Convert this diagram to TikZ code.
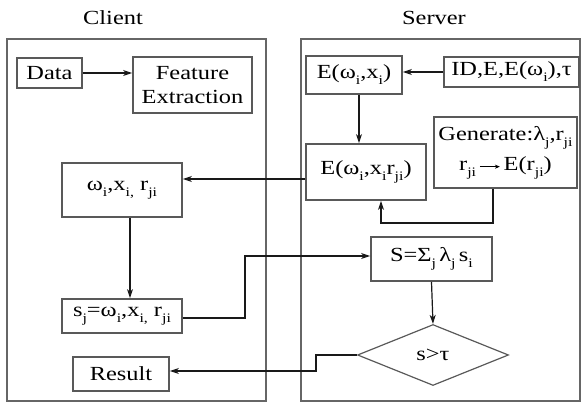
\documentclass[tikz,border=0pt]{standalone}
\usepackage{fontspec}
\setmainfont{Liberation Serif}[FakeStretch=1.22]
\usetikzlibrary{arrows.meta,shapes.geometric,calc}
\newcommand\sbb[1]{\raisebox{-0.65ex}{\fontsize{13}{13}\selectfont #1}}
\tikzset{
  bx/.style={draw=black!65, line width=1.7pt, inner sep=0pt, align=center, fill=white},
  panel/.style={draw=black!60, line width=1.1pt, inner sep=0pt},
  arr/.style={-{Stealth[length=9pt,width=6pt,inset=2.5pt]}, line width=1.2pt, draw=black!90},
  smarr/.style={-{Stealth[length=5pt,width=4pt,inset=1.5pt]}, line width=0.9pt},
}
\begin{document}
\begin{tikzpicture}[x=1pt,y=-1pt,font=\fontsize{20}{26}\selectfont]
\useasboundingbox (0,0) rectangle (582,403);
% panels
\node[panel, minimum width=259pt, minimum height=362pt] (cli) at (136.5,220) {};
\node[panel, minimum width=279pt, minimum height=362pt] (srv) at (440.5,220) {};
\node (tcli) at (113,18) {Client};
\node (tsrv) at (434,18) {Server};
% client boxes
\node[bx, minimum width=65pt, minimum height=30pt] (data) at (49.5,73) {Data};
\node[bx, minimum width=119pt, minimum height=56pt] (feat) at (192.5,85) {Feature\\[-2pt]Extraction};
\node[bx, minimum width=120pt, minimum height=54pt] (om) at (122,190) {ω\sbb{i},x\sbb{i,} r\sbb{ji}};
\node[bx, minimum width=120pt, minimum height=34pt] (sj) at (122,316) {s\sbb{j}=ω\sbb{i},x\sbb{i,} r\sbb{ji}};
\node[bx, minimum width=96pt, minimum height=34pt] (res) at (121,374) {Result};
% server boxes
\node[bx, minimum width=96pt, minimum height=38pt] (exi) at (354,75) {E(ω\sbb{i},x\sbb{i})};
\node[bx, minimum width=135pt, minimum height=30pt] (id) at (511.5,72) {ID,E,E(ω\sbb{i}),τ};
\node[bx, minimum width=120pt, minimum height=56pt] (exr) at (366,172) {E(ω\sbb{i},x\sbb{i}r\sbb{ji})};
\node[bx, minimum width=143pt, minimum height=71pt] (gen) at (505.5,152.5) {Generate:λ\sbb{j},r\sbb{ji}\\[4pt]r\sbb{ji}\,\tikz[baseline=-3.5pt]\draw[smarr](0,0)--(20pt,0);\,E(r\sbb{ji})};
\node[bx, minimum width=121pt, minimum height=44pt] (S) at (431.5,259) {S=Σ\sbb{j}\,λ\sbb{j}\,s\sbb{i}};
\node[draw=black!65, line width=1.2pt, diamond, inner sep=0pt, minimum width=151pt, minimum height=61pt] (dia) at (433,355) {s>τ};
% connectors
\draw[arr] (data.east) -- (data.east -| feat.west);
\draw[arr] (id.west) -- (id.west -| exi.east);
\draw[arr] ([xshift=5pt]exi.south) -- ([xshift=5pt]exi.south |- exr.north);
\coordinate (lp) at (381,223);
\draw[arr] ([xshift=-12.5pt]gen.south) |- (lp) -- (lp |- exr.south);
\draw[arr] ([yshift=-7pt]exr.west) -- ([yshift=-7pt]exr.west -| om.east);
\draw[arr] ([xshift=8pt]om.south) -- ([xshift=8pt]om.south |- sj.north);
\coordinate (k1) at (245,256);
\draw[arr] ([yshift=-2pt]sj.east) -| (k1) -- (k1 -| S.west);
\draw[arr] (S.south) -- (dia.north);
\coordinate (k2) at (316,371);
\draw[arr] (dia.west) -| (k2) -- (k2 -| res.east);
\end{tikzpicture}
\end{document}
